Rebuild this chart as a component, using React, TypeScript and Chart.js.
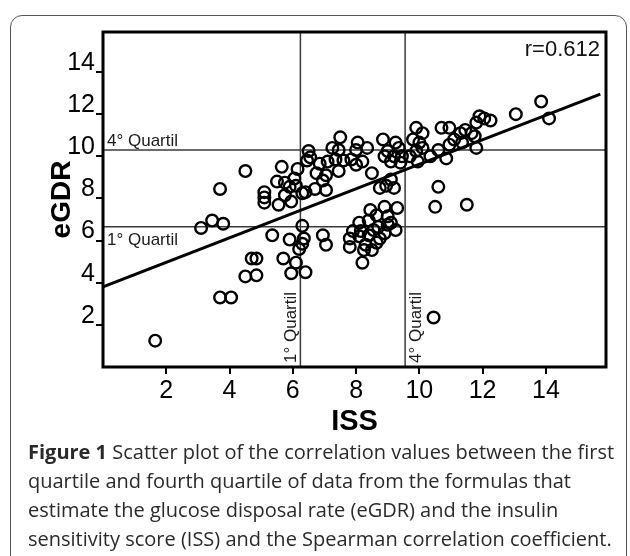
import React, { useEffect, useRef } from "react";
import { Chart, registerables } from "chart.js";

Chart.register(...registerables);

// ISS (x) and eGDR (y) values of each subject
const issValues = [
  1.65, 3.1, 3.45, 3.8, 3.7, 4.5, 3.7, 4.05, 4.5, 4.85, 4.7, 4.85, 5.1, 5.1, 5.1,
  5.65, 6.15, 5.5, 5.75, 5.9, 6.05, 6.3, 5.55, 5.95, 5.75, 6.1,
  5.35, 5.9, 6.3, 6.2, 6.35, 5.7, 6.1, 5.95, 6.4, 6.3,
  6.5, 6.55, 6.45, 6.7, 7.05, 6.4, 6.85, 6.75, 7.05, 6.95, 7.1, 7.35, 7.45, 7.5, 7.25, 7.45,
  8.05, 8.0, 8.35, 7.85, 8.2, 8.0, 7.6, 8.5, 8.75, 9.1, 9.2, 8.95,
  8.85, 9.25, 9.35, 9.0, 9.2, 8.9, 9.45, 9.1, 9.4, 9.9, 10.1, 9.8, 10.0, 9.9, 10.1, 9.7, 9.95,
  10.35, 10.6, 10.85, 10.95, 10.7, 10.95, 11.1, 11.3, 11.45, 11.65, 11.75, 11.8, 11.8, 11.9,
  12.05, 12.25, 13.05, 13.85, 14.1, 11.35,
  10.6, 10.5, 11.5, 10.45,
  6.95, 7.05, 7.8, 7.9, 8.15, 8.1, 8.3, 8.4, 8.55, 8.7, 9.0, 9.25, 8.65, 8.5, 8.25, 8.2,
  8.75, 9.1, 8.1, 8.45, 8.9, 9.3, 8.65, 9.0, 8.4, 8.9, 7.8,
];
const egdrValues = [
  1.25, 6.6, 6.95, 6.8, 8.45, 9.3, 3.3, 3.3, 4.3, 4.35, 5.15, 5.15, 8.3, 8.05, 7.8,
  9.5, 9.4, 8.8, 8.75, 8.55, 8.95, 8.25, 7.7, 7.85, 8.15, 8.6,
  6.25, 6.05, 5.85, 5.6, 6.1, 5.15, 4.95, 4.45, 4.5, 6.7,
  10.25, 9.95, 9.8, 8.45, 8.4, 8.3, 9.65, 9.2, 9.1, 8.85, 9.75, 9.85, 9.3, 10.9, 10.4, 10.3,
  10.65, 10.3, 10.4, 9.85, 9.75, 9.6, 9.8, 9.2, 8.5, 8.9, 8.5, 8.6,
  10.8, 10.65, 10.4, 10.25, 10.0, 10.0, 10.0, 9.75, 9.7, 11.35, 11.1, 10.8, 10.65, 10.25, 10.4, 10.0, 9.75,
  10.0, 10.3, 9.9, 10.55, 11.35, 11.35, 10.8, 11.1, 11.25, 11.1, 10.95, 10.4, 11.6, 11.9,
  11.8, 11.7, 12.0, 12.6, 11.8, 10.65,
  8.55, 7.6, 7.7, 2.35,
  6.25, 5.8, 5.7, 6.45, 6.45, 6.2, 5.8, 6.25, 6.5, 6.65, 6.75, 6.5, 5.9, 5.55, 5.55, 4.95,
  6.1, 6.85, 6.85, 7.45, 7.6, 7.55, 7.2, 7.15, 6.95, 6.35, 6.1,
];

const xTickValues = [2, 4, 6, 8, 10, 12, 14];
const yTickValues = [2, 4, 6, 8, 10, 12, 14];

// regression line end points (ISS, eGDR)
const regressionX = [0, 15.72];
const regressionY = [3.8, 12.95];

// quartile cut-offs
const issQuartiles = [6.24, 9.55]; // 1st, 4th
const egdrQuartiles = [6.66, 10.3]; // 1st, 4th
const quartileLabel1 = "1° Quartil";
const quartileLabel4 = "4° Quartil";
const correlationText = "r=0.612";

const X_MIN = 0;
const X_MAX = 15.9;
const Y_MIN = 0;
const Y_MAX = 15.9;

const NARROW = '"Liberation Sans Narrow", "Liberation Sans", Arial, sans-serif';
const SANS = '"Liberation Sans", Arial, sans-serif';

const framePlugin = {
  id: "framePlugin",
  afterDatasetsDraw(chart: any) {
    const { ctx, chartArea } = chart;
    const xs = chart.scales.x;
    const ys = chart.scales.y;
    ctx.save();
    // frame
    ctx.strokeStyle = "#000";
    ctx.lineWidth = 3;
    ctx.strokeRect(
      chartArea.left,
      chartArea.top,
      chartArea.right - chartArea.left,
      chartArea.bottom - chartArea.top
    );
    ctx.fillStyle = "#1a1a1a";
    ctx.font = `17px ${SANS}`;
    ctx.textAlign = "left";
    ctx.textBaseline = "alphabetic";
    const yq4 = ys.getPixelForValue(egdrQuartiles[1]);
    const yq1 = ys.getPixelForValue(egdrQuartiles[0]);
    ctx.fillText(quartileLabel4, chartArea.left + 4, yq4 - 4);
    ctx.fillText(quartileLabel1, chartArea.left + 4, yq1 + 18);

    const xq1 = xs.getPixelForValue(issQuartiles[0]);
    const xq4 = xs.getPixelForValue(issQuartiles[1]);
    ctx.save();
    ctx.translate(xq1 - 4, chartArea.bottom - 4);
    ctx.rotate(-Math.PI / 2);
    ctx.textBaseline = "alphabetic";
    ctx.fillText(quartileLabel1, 0, 0);
    ctx.restore();
    ctx.save();
    ctx.translate(xq4 + 3, chartArea.bottom - 4);
    ctx.rotate(-Math.PI / 2);
    ctx.textBaseline = "top";
    ctx.fillText(quartileLabel4, 0, 0);
    ctx.restore();

    ctx.font = `22px ${NARROW}`;
    ctx.textAlign = "right";
    ctx.textBaseline = "alphabetic";
    ctx.fillStyle = "#111";
    ctx.fillText(correlationText, chartArea.right - 6, chartArea.top + 24);
    ctx.restore();
  },
};

export default function App() {
  const canvasRef = useRef<HTMLCanvasElement | null>(null);

  useEffect(() => {
    if (!canvasRef.current) return;
    const points = issValues.map((x, i) => ({ x, y: egdrValues[i] }));
    const regression = regressionX.map((x, i) => ({ x, y: regressionY[i] }));
    const lineStyle = {
      type: "line" as const,
      borderColor: "#3a3a3a",
      borderWidth: 1.5,
      pointRadius: 0,
      fill: false,
      order: 3,
    };
    const chart = new Chart(canvasRef.current, {
      type: "scatter",
      data: {
        datasets: [
          { ...lineStyle, data: [{ x: issQuartiles[0], y: Y_MIN }, { x: issQuartiles[0], y: Y_MAX }] },
          { ...lineStyle, data: [{ x: issQuartiles[1], y: Y_MIN }, { x: issQuartiles[1], y: Y_MAX }] },
          { ...lineStyle, data: [{ x: X_MIN, y: egdrQuartiles[0] }, { x: X_MAX, y: egdrQuartiles[0] }] },
          { ...lineStyle, data: [{ x: X_MIN, y: egdrQuartiles[1] }, { x: X_MAX, y: egdrQuartiles[1] }] },
          {
            type: "scatter",
            data: points,
            pointRadius: 5.8,
            pointHoverRadius: 5.8,
            borderWidth: 2.4,
            borderColor: "#000",
            backgroundColor: "rgba(0,0,0,0)",
            order: 2,
          } as any,
          {
            type: "line",
            data: regression,
            borderColor: "#000",
            borderWidth: 3,
            pointRadius: 0,
            fill: false,
            order: 1,
          } as any,
        ],
      },
      options: {
        responsive: false,
        animation: false,
        events: [],
        layout: { padding: { top: 32, right: 24, left: 0, bottom: 0 } },
        plugins: {
          legend: { display: false },
          tooltip: { enabled: false },
        },
        scales: {
          x: {
            type: "linear",
            min: X_MIN,
            max: X_MAX,
            afterBuildTicks: (s: any) => {
              s.ticks = xTickValues.map((v) => ({ value: v }));
            },
            afterFit: (s: any) => {
              s.height = 73;
            },
            ticks: {
              color: "#000",
              padding: 2,
              font: { family: NARROW, size: 25 },
              maxRotation: 0,
              autoSkip: false,
            },
            grid: {
              display: true,
              drawOnChartArea: false,
              drawTicks: true,
              tickLength: 7,
              color: "#000",
              lineWidth: 2,
            },
            border: { display: false },
            title: {
              display: true,
              text: "ISS",
              color: "#000",
              font: { family: SANS, size: 29, weight: "bold" },
              padding: { top: 0, bottom: 1 },
            },
          },
          y: {
            type: "linear",
            min: Y_MIN,
            max: Y_MAX,
            afterBuildTicks: (s: any) => {
              s.ticks = yTickValues.map((v) => ({ value: v }));
            },
            afterFit: (s: any) => {
              s.width = 103;
            },
            ticks: {
              color: "#000",
              padding: 1,
              labelOffset: -9,
              font: { family: NARROW, size: 25 },
              autoSkip: false,
            },
            grid: {
              display: true,
              drawOnChartArea: false,
              drawTicks: true,
              tickLength: 7,
              color: "#000",
              lineWidth: 2,
            },
            border: { display: false },
            title: {
              display: true,
              text: "eGDR",
              color: "#000",
              font: { family: SANS, size: 28, weight: "bold" },
              padding: { top: 45, bottom: 0 },
            },
          },
        },
      } as any,
      plugins: [framePlugin],
    });
    return () => chart.destroy();
  }, []);

  return (
    <div
      style={{
        position: "absolute",
        left: 0,
        top: 0,
        width: 630,
        height: 556,
        overflow: "hidden",
        background: "#fff",
      }}
    >
      <div
        style={{
          position: "absolute",
          left: 10,
          top: 15,
          width: 617,
          height: 620,
          border: "1.5px solid #555",
          borderRadius: 12,
          boxSizing: "border-box",
        }}
      />
      <canvas
        ref={canvasRef}
        width={630}
        height={440}
        style={{ position: "absolute", left: 0, top: 0, width: 630, height: 440 }}
      />
      <div
        style={{
          position: "absolute",
          left: 28,
          top: 437,
          width: 600,
          fontFamily: '"Open Sans", "Noto Sans", sans-serif',
          fontSize: 20,
          lineHeight: "29px",
          color: "#2a2a2a",
          whiteSpace: "nowrap",
        }}
      >
        <b>Figure 1</b> Scatter plot of the correlation values between the first
        <br />
        quartile and fourth quartile of data from the formulas that
        <br />
        estimate the glucose disposal rate (eGDR) and the insulin
        <br />
        sensitivity score (ISS) and the Spearman correlation coefficient.
      </div>
    </div>
  );
}
